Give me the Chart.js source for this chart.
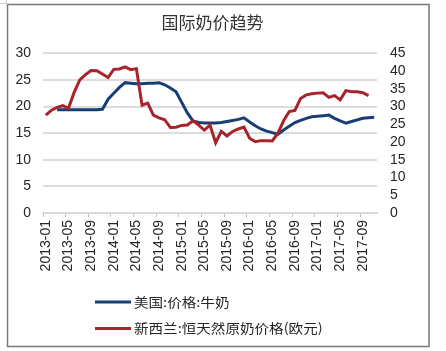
<!DOCTYPE html>
<html>
<head>
<meta charset="utf-8">
<script src="https://cdn.jsdelivr.net/npm/chart.js@4.4.1/dist/chart.umd.min.js"></script>
<style>
  html, body { margin: 0; padding: 0; background: #fff; }
  canvas { display: block; }
</style>
</head>
<body>
<canvas id="milkChart" width="446" height="351"></canvas>
<script>
// Months on the category axis (2013-01 .. 2017-11)
const months = [
  "2013-01","2013-02","2013-03","2013-04","2013-05","2013-06","2013-07","2013-08","2013-09","2013-10","2013-11","2013-12",
  "2014-01","2014-02","2014-03","2014-04","2014-05","2014-06","2014-07","2014-08","2014-09","2014-10","2014-11","2014-12",
  "2015-01","2015-02","2015-03","2015-04","2015-05","2015-06","2015-07","2015-08","2015-09","2015-10","2015-11","2015-12",
  "2016-01","2016-02","2016-03","2016-04","2016-05","2016-06","2016-07","2016-08","2016-09","2016-10","2016-11","2016-12",
  "2017-01","2017-02","2017-03","2017-04","2017-05","2017-06","2017-07","2017-08","2017-09","2017-10","2017-11"
];

// US milk price (left axis)
const usMilk = [
  null, null, 19.4, 19.4, 19.4, 19.4, 19.4, 19.4, 19.4, 19.4, 19.5, 21.4,
  22.5, 23.6, 24.5, 24.4, 24.3, 24.3, 24.4, 24.4, 24.5, 24.1, 23.5, 22.8,
  20.8, 18.8, 17.3, 17.0, 16.9, 16.9, 16.9, 17.0, 17.2, 17.4, 17.6, 17.9,
  17.1, 16.4, 15.8, 15.4, 15.1, 14.8, 15.6, 16.3, 17.0, 17.4, 17.8, 18.1,
  18.2, 18.3, 18.4, 17.8, 17.3, 16.9, 17.2, 17.5, 17.8, 17.9, 18.0
];

// NZ Fonterra raw milk price in EUR (right axis)
const nzMilk = [
  27.6, 29.0, 29.8, 30.3, 29.5, 34.0, 37.5, 39.0, 40.2, 40.1, 39.2, 38.2,
  40.5, 40.6, 41.2, 40.4, 40.7, 30.4, 31.0, 27.6, 26.8, 26.3, 24.1, 24.2,
  24.7, 24.8, 26.0, 24.8, 23.4, 24.8, 19.8, 23.0, 21.7, 23.0, 23.7, 24.2,
  21.1, 20.1, 20.4, 20.4, 20.3, 22.5, 26.0, 28.6, 28.9, 32.3, 33.3, 33.6,
  33.8, 33.9, 32.6, 33.1, 31.9, 34.5, 34.2, 34.2, 33.9, 33.1, null
];

const leftTicks = { min: 0, max: 30, step: 5 };
const rightTicks = { min: 0, max: 45, step: 5 };
const labelEvery = 4;

const numFont = { family: "'Liberation Sans', Arial, sans-serif", size: 14 };
const cjkFont = "'Noto Sans CJK SC', sans-serif";

// frame around the whole picture + custom stacked legend
const frameAndLegend = {
  id: "frameAndLegend",
  beforeDraw(chart) {
    const ctx = chart.ctx;
    ctx.save();
    ctx.strokeStyle = "#cfcfcf";
    ctx.lineWidth = 1;
    ctx.beginPath();
    ctx.moveTo(0, 3.5); ctx.lineTo(6.5, 3.5); ctx.lineTo(6.5, 0);
    ctx.stroke();
    ctx.strokeStyle = "#7a7a7a";
    ctx.lineWidth = 1.5;
    ctx.strokeRect(7.5, 4.5, 421.5, 342);
    ctx.restore();
  },
  afterDraw(chart) {
    const ctx = chart.ctx;
    ctx.save();
    ctx.font = "13px " + cjkFont;
    ctx.textBaseline = "middle";
    chart.data.datasets.forEach((ds, i) => {
      const y = 302 + i * 26.5;
      ctx.strokeStyle = ds.borderColor;
      ctx.lineWidth = 3;
      ctx.beginPath();
      ctx.moveTo(95, y);
      ctx.lineTo(131, y);
      ctx.stroke();
      ctx.save();
      ctx.translate(134, y);
      ctx.scale(1.12, 1);
      ctx.fillStyle = "#262626";
      ctx.fillText(ds.label, 0, 0);
      ctx.restore();
    });
    ctx.restore();
  }
};

new Chart(document.getElementById("milkChart").getContext("2d"), {
  type: "line",
  data: {
    labels: months,
    datasets: [
      {
        label: "美国:价格:牛奶",
        data: usMilk,
        yAxisID: "y",
        borderColor: "#183f75",
        borderWidth: 3,
        pointRadius: 0,
        tension: 0,
        order: 1
      },
      {
        label: "新西兰:恒天然原奶价格(欧元)",
        data: nzMilk,
        yAxisID: "y1",
        borderColor: "#a8242b",
        borderWidth: 3,
        pointRadius: 0,
        tension: 0,
        order: 0
      }
    ]
  },
  options: {
    responsive: false,
    animation: false,
    layout: { padding: { top: 2, left: 8, right: 29, bottom: 68 } },
    plugins: {
      legend: { display: false },
      tooltip: { enabled: false },
      title: {
        display: true,
        text: "国际奶价趋势",
        color: "#333",
        font: { family: cjkFont, size: 17, weight: "normal", lineHeight: 1.2 },
        padding: { top: 10, bottom: 21 }
      }
    },
    scales: {
      x: {
        offset: true,
        afterFit: (scale) => { scale.height = 70; },
        grid: {
          offset: true,
          drawOnChartArea: false,
          tickLength: 4,
          color: (c) => (c.index % labelEvery === 0 ? "#bfbfbf" : "transparent")
        },
        border: { color: "#d9d9d9", width: 2 },
        ticks: {
          autoSkip: false,
          maxRotation: 90,
          minRotation: 90,
          padding: 3,
          color: "#262626",
          font: numFont,
          callback: (v, i) => (i % labelEvery === 0 ? months[i] : "")
        }
      },
      y: {
        position: "left",
        min: leftTicks.min,
        max: leftTicks.max,
        afterFit: (scale) => { scale.width = 35; },
        border: { display: false },
        grid: { color: "#dcdcdc", lineWidth: 2, drawTicks: false },
        ticks: { stepSize: leftTicks.step, autoSkip: false, padding: 12, color: "#262626", font: numFont }
      },
      y1: {
        position: "right",
        min: rightTicks.min,
        max: rightTicks.max,
        afterFit: (scale) => { scale.width = 40; },
        border: { display: false },
        grid: { drawOnChartArea: false, drawTicks: false },
        ticks: { stepSize: rightTicks.step, autoSkip: false, padding: 13, color: "#262626", font: numFont }
      }
    }
  },
  plugins: [frameAndLegend]
});
</script>
</body>
</html>
